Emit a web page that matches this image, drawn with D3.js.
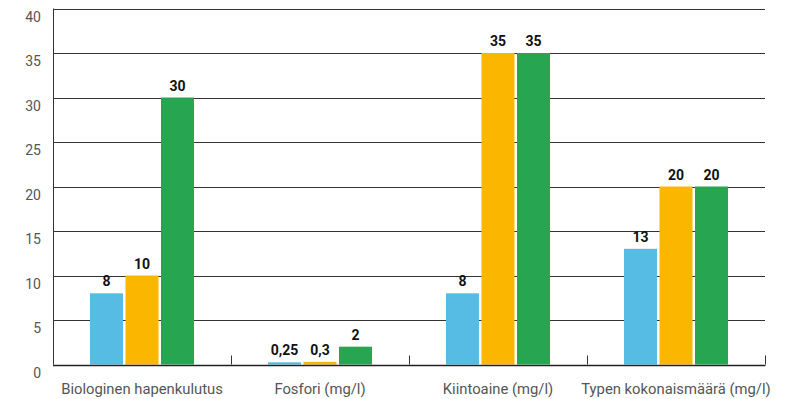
<!DOCTYPE html>
<html><head><meta charset="utf-8">
<script src="https://cdn.jsdelivr.net/npm/d3@7"></script>
<style>body{margin:0;background:#fff;}svg{display:block;font-family:Roboto,"Noto Sans",sans-serif;}</style>
</head><body><svg id="c" width="790" height="399"></svg>
<script>
const categories = ["Biologinen hapenkulutus","Fosfori (mg/l)","Kiintoaine (mg/l)","Typen kokonaismäärä (mg/l)"];
const seriesA = [8, 0.25, 8, 13];
const seriesB = [10, 0.3, 35, 20];
const seriesC = [30, 2, 35, 20];
const valueLabelsA = ["8","0,25","8","13"];
const valueLabelsB = ["10","0,3","35","20"];
const valueLabelsC = ["30","2","35","20"];
const yTicks = [0,5,10,15,20,25,30,35,40];
const colors = ["#56BCE3","#FBB600","#27A550"];

(function(){
const svg = d3.select("#c");
const mLeft = 53, mRight = 765, mTop = 8.5, mBottom = 364.5;
const x = d3.scaleBand().domain(categories).range([mLeft, mRight]).paddingInner(0).paddingOuter(0);
const y = d3.scaleLinear().domain([0,40]).range([mBottom, mTop]);
const groupW = 104;
const x1 = d3.scaleBand().domain([0,1,2]).range([0, groupW]).paddingInner(0.07);

svg.append("g").selectAll("line").data(yTicks.filter(d=>d>0)).join("line")
  .attr("x1", mLeft).attr("x2", mRight)
  .attr("y1", d=>Math.round(y(d))+0.5).attr("y2", d=>Math.round(y(d))+0.5)
  .attr("stroke", "#333").attr("stroke-width", 1);

svg.append("g").selectAll("text").data(yTicks).join("text")
  .attr("x", 41).attr("y", d=>y(d)+13)
  .attr("text-anchor","end").attr("font-size",14).attr("fill","#555")
  .text(d=>d);

const series = [seriesA, seriesB, seriesC];
const labels = [valueLabelsA, valueLabelsB, valueLabelsC];
const g = svg.append("g");
categories.forEach((c,i)=>{
  const gx = x(c) + (x.bandwidth()-groupW)/2;
  series.forEach((s,j)=>{
    g.append("rect")
      .attr("x", gx + x1(j)).attr("width", x1.bandwidth())
      .attr("y", y(s[i])).attr("height", y(0)-y(s[i]))
      .attr("fill", colors[j]);
    g.append("text")
      .attr("x", gx + x1(j) + x1.bandwidth()/2).attr("y", y(s[i]) - 7)
      .attr("text-anchor","middle").attr("font-size",14).attr("font-weight","bold").attr("fill","#111")
      .text(labels[j][i]);
  });
});

svg.append("line").attr("x1", mLeft+0.5).attr("x2", mLeft+0.5).attr("y1", mTop).attr("y2", mBottom).attr("stroke","#333");
svg.append("line").attr("x1", mLeft).attr("x2", mRight+0.5).attr("y1", Math.round(mBottom)+0.5).attr("y2", Math.round(mBottom)+0.5).attr("stroke","#222").attr("stroke-width",1.5);
const bounds = categories.map(c=>x(c)).concat([mRight]);
svg.append("g").selectAll("line").data(bounds).join("line")
  .attr("x1", d=>Math.round(d)+0.5).attr("x2", d=>Math.round(d)+0.5)
  .attr("y1", mBottom-9).attr("y2", mBottom)
  .attr("stroke","#333");

svg.append("g").selectAll("text").data(categories).join("text")
  .attr("x", d=>x(d)+x.bandwidth()/2).attr("y", 394)
  .attr("text-anchor","middle").attr("font-size",14.8).attr("fill","#555")
  .text(d=>d);
})();
</script></body></html>
